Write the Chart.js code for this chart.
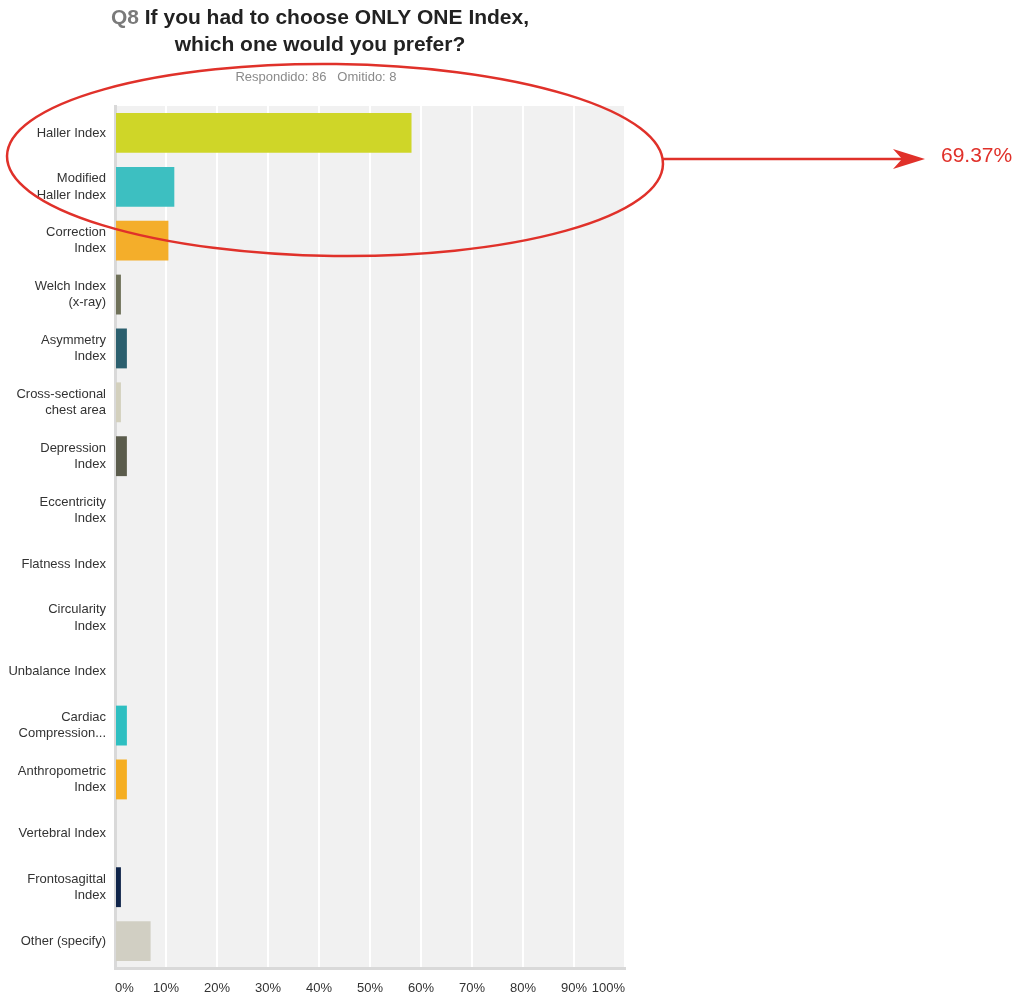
<!DOCTYPE html>
<html>
<head>
<meta charset="utf-8">
<script src="https://cdn.jsdelivr.net/npm/chart.js@4"></script>
<style>
  html, body { margin: 0; padding: 0; background: #fff; }
  #wrap { width: 1023px; height: 997px; }
</style>
</head>
<body>
<div id="wrap"><canvas id="chart" width="1023" height="997"></canvas></div>
<script>
const categories = [
    'Haller Index',
    ['Modified', 'Haller Index'],
    ['Correction', 'Index'],
    ['Welch Index', '(x-ray)'],
    ['Asymmetry', 'Index'],
    ['Cross-sectional', 'chest area'],
    ['Depression', 'Index'],
    ['Eccentricity', 'Index'],
    'Flatness Index',
    ['Circularity', 'Index'],
    'Unbalance Index',
    ['Cardiac', 'Compression...'],
    ['Anthropometric', 'Index'],
    'Vertebral Index',
    ['Frontosagittal', 'Index'],
    'Other (specify)'
];
// percent of respondents (86)
const percents = [58.14, 11.63, 10.47, 1.16, 2.33, 1.16, 2.33, 0, 0, 0, 0, 2.33, 2.33, 0, 1.16, 6.98];
const barColors = [
    '#cfd628', '#3dbfc1', '#f4ae2a', '#6f7159', '#2b5f6e', '#d3d0bd', '#5b5c4c', '#cccccc',
    '#cccccc', '#cccccc', '#cccccc', '#2ebfc1', '#f5ae22', '#cccccc', '#10254a', '#d1cfc3'
];
const xTicks = [0, 10, 20, 30, 40, 50, 60, 70, 80, 90, 100];
const titleLines = ['If you had to choose ONLY ONE Index,', 'which one would you prefer?'];
const questionNo = 'Q8';
const subtitle = 'Respondido: 86   Omitido: 8';
const calloutText = '69.37%';

const FONT = '"Liberation Sans", Arial, Helvetica, sans-serif';

const plotBackground = {
    id: 'plotBackground',
    beforeDraw(chart) {
        const { ctx, chartArea: a } = chart;
        ctx.save();
        ctx.fillStyle = '#f1f1f1';
        ctx.fillRect(a.left, a.top, a.right - a.left, a.bottom - a.top);
        ctx.restore();
    }
};

const headerText = {
    id: 'headerText',
    afterDraw(chart) {
        const ctx = chart.ctx;
        const cx = 320;
        ctx.save();
        ctx.textBaseline = 'middle';
        ctx.font = 'bold 21px ' + FONT;
        const qw = ctx.measureText(questionNo + ' ').width;
        const lw = ctx.measureText(titleLines[0]).width;
        const start = cx - (qw + lw) / 2;
        ctx.textAlign = 'left';
        ctx.fillStyle = '#7a7a7a';
        ctx.fillText(questionNo, start, 18);
        ctx.fillStyle = '#222';
        ctx.fillText(titleLines[0], start + qw, 18);
        ctx.textAlign = 'center';
        ctx.fillText(titleLines[1], cx, 45);
        ctx.font = '13px ' + FONT;
        ctx.fillStyle = '#8a8a8a';
        ctx.fillText(subtitle, 316, 77);
        ctx.restore();
    }
};

const callout = {
    id: 'callout',
    afterDraw(chart) {
        const ctx = chart.ctx;
        const red = '#e0312a';
        ctx.save();
        ctx.strokeStyle = red;
        ctx.fillStyle = red;
        ctx.lineWidth = 2.5;
        ctx.beginPath();
        ctx.ellipse(335, 160, 328, 96, 0.012, 0, Math.PI * 2);
        ctx.stroke();
        ctx.beginPath();
        ctx.moveTo(663, 159);
        ctx.lineTo(905, 159);
        ctx.stroke();
        ctx.beginPath();
        ctx.moveTo(925, 159);
        ctx.lineTo(893, 149);
        ctx.lineTo(902, 159);
        ctx.lineTo(893, 169);
        ctx.closePath();
        ctx.fill();
        ctx.font = '21px ' + FONT;
        ctx.textAlign = 'left';
        ctx.textBaseline = 'middle';
        ctx.fillText(calloutText, 941, 156);
        ctx.restore();
    }
};

new Chart(document.getElementById('chart'), {
    type: 'bar',
    data: {
        labels: categories,
        datasets: [{
            data: percents,
            backgroundColor: barColors,
            borderWidth: 0,
            barPercentage: 0.74,
            categoryPercentage: 1
        }]
    },
    options: {
        indexAxis: 'y',
        responsive: false,
        animation: false,
        layout: { padding: { top: 106, right: 398, bottom: 0, left: 0 } },
        plugins: {
            legend: { display: false },
            tooltip: { enabled: false }
        },
        scales: {
            x: {
                min: 0,
                max: 100,
                afterBuildTicks(scale) {
                    scale.ticks = xTicks.map(v => ({ value: v }));
                },
                afterFit(scale) { scale.height = 29; },
                grid: {
                    color: '#ffffff',
                    lineWidth: 2,
                    drawTicks: false
                },
                border: { color: '#d9d9d9', width: 3 },
                ticks: {
                    padding: 13,
                    align: 'inner',
                    color: '#333',
                    font: { family: FONT, size: 13 },
                    callback: v => v + '%'
                }
            },
            y: {
                afterFit(scale) { scale.width = 115; },
                grid: { display: false, drawTicks: false },
                border: { color: '#d9d9d9', width: 3 },
                ticks: {
                    padding: 9,
                    color: '#333',
                    font: { family: FONT, size: 13, lineHeight: 1.25 }
                }
            }
        }
    },
    plugins: [plotBackground, headerText, callout]
});
</script>
</body>
</html>
